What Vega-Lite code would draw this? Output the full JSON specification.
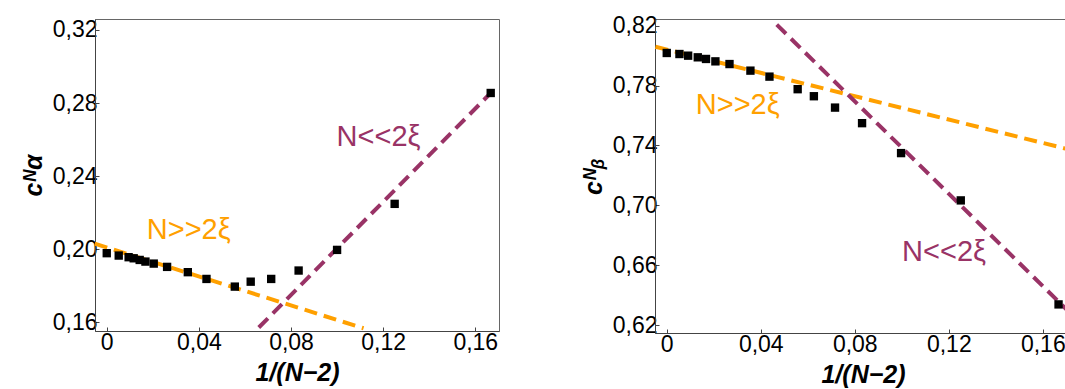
{
  "$schema": "https://vega.github.io/schema/vega-lite/v6.json",
  "padding": {"left": 20, "top": 14, "right": 0, "bottom": 0},
  "spacing": 75,
  "config": {
    "view": {"stroke": "#666666", "strokeWidth": 1},
    "axis": {
      "grid": false,
      "labelFont": "Liberation Sans",
      "labelFontSize": 23,
      "labelColor": "#000000",
      "titleFont": "Liberation Sans",
      "titleFontSize": 25,
      "titleFontWeight": "bold",
      "titleFontStyle": "italic",
      "titleColor": "#000000",
      "tickSize": -4,
      "tickColor": "#444444",
      "domainColor": "#444444",
      "labelFlush": false,
      "labelOverlap": false
    },
    "text": {"font": "Liberation Sans"}
  },
  "datasets": {
    "ptsA": [
      {"x": 0, "y": 0.1978}, {"x": 0.0052, "y": 0.1965}, {"x": 0.0095, "y": 0.1956},
      {"x": 0.0117, "y": 0.195}, {"x": 0.0143, "y": 0.1941}, {"x": 0.0168, "y": 0.1932},
      {"x": 0.0204, "y": 0.1921}, {"x": 0.0262, "y": 0.1903}, {"x": 0.0352, "y": 0.1874},
      {"x": 0.0433, "y": 0.1837}, {"x": 0.0556, "y": 0.1795}, {"x": 0.0625, "y": 0.1822},
      {"x": 0.0714, "y": 0.1837}, {"x": 0.0833, "y": 0.1883}, {"x": 0.1, "y": 0.1996},
      {"x": 0.125, "y": 0.2248}, {"x": 0.1667, "y": 0.2855}
    ],
    "linesA": [
      {"s": "large", "x": -0.0052, "y": 0.2030}, {"s": "large", "x": 0.1115, "y": 0.1567},
      {"s": "small", "x": 0.066, "y": 0.1571}, {"s": "small", "x": 0.169, "y": 0.2884}
    ],
    "labelsA": [
      {"s": "small", "t": "N<<2ξ", "x": 0.118, "y": 0.2616},
      {"s": "large", "t": "N>>2ξ", "x": 0.0356, "y": 0.2105}
    ],
    "ptsB": [
      {"x": 0, "y": 0.8018}, {"x": 0.0054, "y": 0.8011}, {"x": 0.0091, "y": 0.8},
      {"x": 0.0132, "y": 0.7989}, {"x": 0.0167, "y": 0.7978}, {"x": 0.0207, "y": 0.7962},
      {"x": 0.0267, "y": 0.7944}, {"x": 0.0356, "y": 0.79}, {"x": 0.0437, "y": 0.786},
      {"x": 0.0557, "y": 0.7776}, {"x": 0.0626, "y": 0.7729}, {"x": 0.0716, "y": 0.7653},
      {"x": 0.0831, "y": 0.7549}, {"x": 0.0997, "y": 0.7349}, {"x": 0.1251, "y": 0.7033},
      {"x": 0.1667, "y": 0.6338}
    ],
    "linesB": [
      {"s": "large", "x": -0.0048, "y": 0.806}, {"s": "large", "x": 0.172, "y": 0.737},
      {"s": "small", "x": 0.0468, "y": 0.8207}, {"s": "small", "x": 0.172, "y": 0.6275}
    ],
    "labelsB": [
      {"s": "large", "t": "N>>2ξ", "x": 0.0302, "y": 0.7673},
      {"s": "small", "t": "N<<2ξ", "x": 0.118, "y": 0.669}
    ]
  },
  "hconcat": [
    {
      "width": 404,
      "height": 312,
      "encoding": {
        "x": {"field": "x", "type": "quantitative",
          "scale": {"domain": [-0.0051, 0.1703], "nice": false, "zero": false},
          "axis": {"title": "1/(N−2)", "values": [0, 0.04, 0.08, 0.12, 0.16], "labelPadding": 4, "titlePadding": 6,
            "labelExpr": "datum.value == 0 ? '0' : replace(format(datum.value, '.2f'), '.', ',')"}},
        "y": {"field": "y", "type": "quantitative",
          "scale": {"domain": [0.1552, 0.326], "nice": false, "zero": false},
          "axis": {"title": "cᴺα", "values": [0.16, 0.2, 0.24, 0.28, 0.32], "labelPadding": 2, "titlePadding": 6,
            "labelExpr": "replace(format(datum.value, '.2f'), '.', ',')"}}
      },
      "layer": [
        {"data": {"name": "linesA"},
         "mark": {"type": "line", "strokeWidth": 4, "strokeDash": [13, 7]},
         "encoding": {"detail": {"field": "s"},
           "color": {"field": "s", "type": "nominal", "scale": {"domain": ["large", "small"], "range": ["#FFA000", "#993366"]}, "legend": null}}},
        {"data": {"name": "ptsA"},
         "mark": {"type": "point", "shape": "square", "filled": true, "color": "#000000", "opacity": 1, "size": 70}},
        {"data": {"name": "labelsA"},
         "mark": {"type": "text", "fontSize": 29},
         "encoding": {"text": {"field": "t"},
           "color": {"field": "s", "type": "nominal", "scale": {"domain": ["large", "small"], "range": ["#FF9900", "#993366"]}, "legend": null}}}
      ]
    },
    {
      "width": 416,
      "height": 314,
      "encoding": {
        "x": {"field": "x", "type": "quantitative",
          "scale": {"domain": [-0.005, 0.172], "nice": false, "zero": false},
          "axis": {"title": "1/(N−2)", "values": [0, 0.04, 0.08, 0.12, 0.16], "labelPadding": 4, "titlePadding": 6,
            "labelExpr": "datum.value == 0 ? '0' : replace(format(datum.value, '.2f'), '.', ',')"}},
        "y": {"field": "y", "type": "quantitative",
          "scale": {"domain": [0.6147, 0.8245], "nice": false, "zero": false},
          "axis": {"title": "cᴺᵦ", "values": [0.62, 0.66, 0.7, 0.74, 0.78, 0.82], "labelPadding": 2, "titlePadding": 6,
            "labelExpr": "replace(format(datum.value, '.2f'), '.', ',')"}}
      },
      "layer": [
        {"data": {"name": "linesB"},
         "mark": {"type": "line", "strokeWidth": 4, "strokeDash": [13, 7]},
         "encoding": {"detail": {"field": "s"},
           "color": {"field": "s", "type": "nominal", "scale": {"domain": ["large", "small"], "range": ["#FFA000", "#993366"]}, "legend": null}}},
        {"data": {"name": "ptsB"},
         "mark": {"type": "point", "shape": "square", "filled": true, "color": "#000000", "opacity": 1, "size": 70}},
        {"data": {"name": "labelsB"},
         "mark": {"type": "text", "fontSize": 29},
         "encoding": {"text": {"field": "t"},
           "color": {"field": "s", "type": "nominal", "scale": {"domain": ["large", "small"], "range": ["#FF9900", "#993366"]}, "legend": null}}}
      ]
    }
  ]
}
